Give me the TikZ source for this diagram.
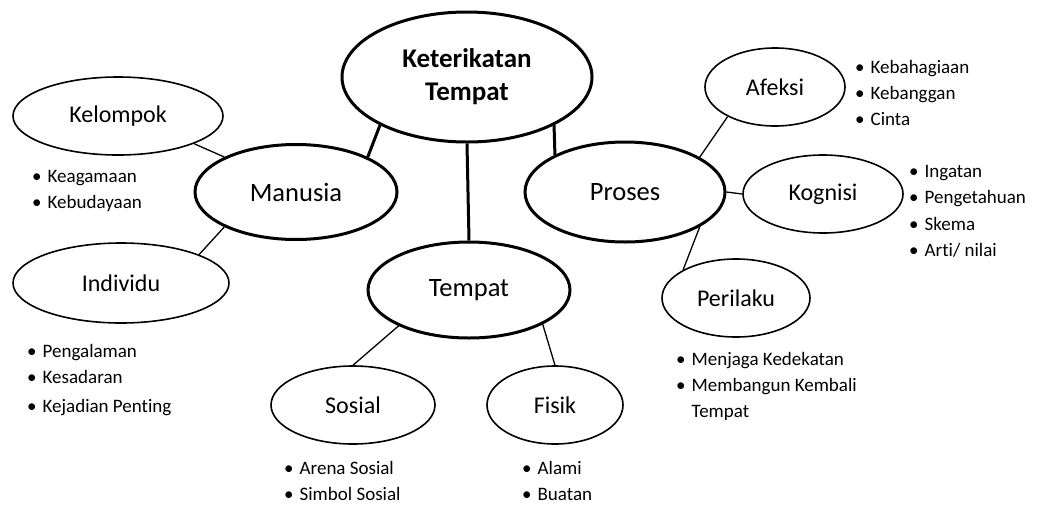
\documentclass[tikz,border=0pt]{standalone}
\usepackage{fontspec}
\setmainfont{Carlito}[Ligatures=NoCommon]
\usepackage{tikz}
\usetikzlibrary{shapes.geometric}

\tikzset{
	pokok/.style={ellipse, draw, line width=3pt, inner sep=0pt, font=\fontsize{26.5}{30}\selectfont},
	cabang/.style={ellipse, draw, line width=1.6pt, inner sep=0pt, font=\fontsize{24}{28}\selectfont},
	garis/.style={line width=3pt},
	garistipis/.style={line width=1.3pt},
	daftar/.style={anchor=north west, inner sep=0pt, align=left, font=\fontsize{19}{26}\selectfont}
}
\newcommand{\butir}[1]{\begin{tabular}{@{}l@{\hspace{6pt}}l@{}}#1\end{tabular}}

\begin{document}
\begin{tikzpicture}[x=1pt, y=1pt]
	
	\useasboundingbox (0,0) rectangle (1058,-504);
	
	% pusat
	\node[pokok, minimum width=250pt, minimum height=130pt, align=center, font=\fontsize{27}{33}\selectfont\bfseries] (kt) at (467,-77) {Keterikatan\\Tempat};
	
	% tiga cabang utama
	\node[pokok, minimum width=202pt, minimum height=95pt] (man) at (296,-192) {Manusia};
	\node[pokok, minimum width=200pt, minimum height=100pt] (pro) at (625,-192) {Proses};
	\node[pokok, minimum width=202pt, minimum height=96pt] (tmp) at (469,-290) {Tempat};
	
	% anak cabang
	\node[cabang, minimum width=210pt, minimum height=78pt] (kel) at (118,-116) {Kelompok};
	\node[cabang, minimum width=216pt, minimum height=80pt] (ind) at (121,-283) {Individu};
	\node[cabang, minimum width=140pt, minimum height=78pt] (afe) at (775,-87) {Afeksi};
	\node[cabang, minimum width=160pt, minimum height=78pt] (kog) at (823,-194) {Kognisi};
	\node[cabang, minimum width=148pt, minimum height=78pt] (per) at (736,-298) {Perilaku};
	\node[cabang, minimum width=164pt, minimum height=78pt] (sos) at (353,-405) {Sosial};
	\node[cabang, minimum width=136pt, minimum height=78pt] (fis) at (555,-405) {Fisik};
	
	% garis tebal
	\draw[garis] (kt.209) -- (man.26);
	\draw[garis] (kt.331) -- (pro.152);
	\draw[garis] (kt.south) -- (tmp.north);
	
	% garis tipis
	\draw[garistipis] (man.154) -- (kel.340);
	\draw[garistipis] (man.206) -- (ind.20);
	\draw[garistipis] (pro.25) -- (afe.212);
	\draw[garistipis] (pro.east) -- (kog.west);
	\draw[garistipis] (pro.335) -- (per.152);
	\draw[garistipis] (tmp.207) -- (sos.north);
	\draw[garistipis] (tmp.335) -- (fis.north);
	
	% daftar butir
	\node[daftar] (dkel) at (32,-164) {\butir{\textbullet & Keagamaan\\ \textbullet & Kebudayaan}};
	\node[daftar] (dind) at (27,-339) {\butir{\textbullet & Pengalaman\\ \textbullet & Kesadaran\\[3pt] \textbullet & Kejadian Penting}};
	\node[daftar] (dafe) at (855,-55) {\butir{\textbullet & Kebahagiaan\\ \textbullet & Kebanggan\\ \textbullet & Cinta}};
	\node[daftar] (dkog) at (909,-159) {\butir{\textbullet & Ingatan\\ \textbullet & Pengetahuan\\[1pt] \textbullet & Skema\\ \textbullet & Arti/ nilai}};
	\node[daftar] (dper) at (676,-347) {\butir{\textbullet & Menjaga Kedekatan\\ \textbullet & Membangun Kembali\\ & Tempat}};
	\node[daftar] (dsos) at (284,-456) {\butir{\textbullet & Arena Sosial\\ \textbullet & Simbol Sosial}};
	\node[daftar] (dfis) at (522,-456) {\butir{\textbullet & Alami\\ \textbullet & Buatan}};
	
\end{tikzpicture}
\end{document}
